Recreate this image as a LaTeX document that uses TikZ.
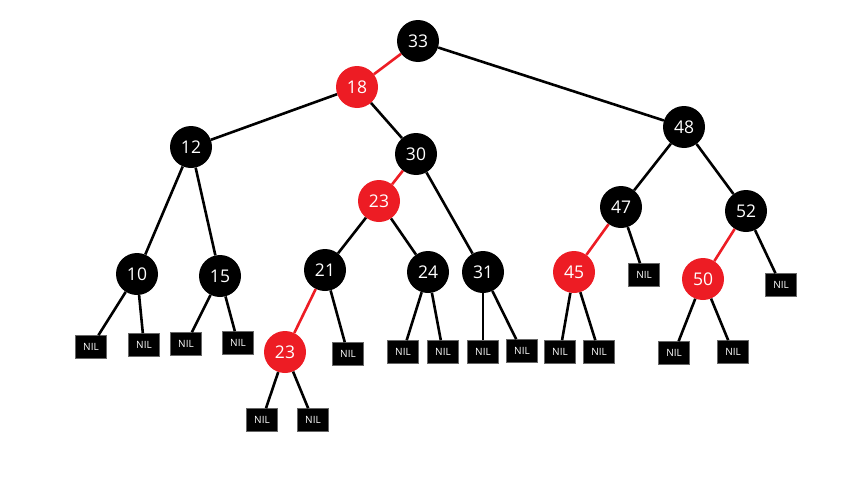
\documentclass[tikz,border=0pt]{standalone}
\usepackage{fontspec}
\setmainfont{Open Sans}
\usepackage{tikz}
\definecolor{rbred}{RGB}{237,28,36}
\tikzstyle{blk}=[circle, fill=black, inner sep=0pt, minimum size=42pt, text=white, font=\fontsize{17.5}{17.5}\selectfont]
\tikzstyle{rd}=[blk, fill=rbred]
\tikzstyle{nil}=[rectangle, fill=black, draw=black!60, line width=0.6pt, inner sep=0pt, minimum width=31pt, minimum height=23pt, text=white, font=\fontsize{10}{10}\selectfont]
\tikzstyle{lnk}=[draw, line width=2.6pt]
\tikzstyle{rlnk}=[lnk, draw=rbred]

\begin{document}
\begin{tikzpicture}[x=1pt,y=-1pt]
    \useasboundingbox (0,0) rectangle (848,479);
    % inner nodes
    \node [blk] (n33) at (418,41) {33};
    \node [rd] (n18) at (357,87) {18};
    \node [blk] (n12) at (191,147) {12};
    \node [blk] (n30) at (416,154) {30};
    \node [blk] (n48) at (684,127) {48};
    \node [rd] (n23a) at (379,201) {23};
    \node [blk] (n47) at (621,207) {47};
    \node [blk] (n52) at (746,211) {52};
    \node [blk] (n10) at (137,274) {10};
    \node [blk] (n15) at (220,276) {15};
    \node [blk] (n21) at (325,270) {21};
    \node [blk] (n24) at (428,272) {24};
    \node [blk] (n31) at (483,272) {31};
    \node [rd] (n45) at (574,272) {45};
    \node [rd] (n50) at (703,279) {50};
    \node [rd] (n23b) at (285,352) {23};
    % leaves
    \node [nil] (l10a) at (91,347) {NIL};
    \node [nil] (l10b) at (144,345) {NIL};
    \node [nil] (l15a) at (186,344) {NIL};
    \node [nil] (l15b) at (238,343) {NIL};
    \node [nil] (l21) at (348,354) {NIL};
    \node [nil] (l23a) at (262,420) {NIL};
    \node [nil] (l23b) at (313,420) {NIL};
    \node [nil] (l24a) at (403,352) {NIL};
    \node [nil] (l24b) at (443,352) {NIL};
    \node [nil] (l31a) at (483,352) {NIL};
    \node [nil] (l31b) at (522,351) {NIL};
    \node [nil] (l45a) at (560,352) {NIL};
    \node [nil] (l45b) at (599,352) {NIL};
    \node [nil] (l47) at (644,275) {NIL};
    \node [nil] (l50a) at (674,353) {NIL};
    \node [nil] (l50b) at (733,352) {NIL};
    \node [nil] (l52) at (781,285) {NIL};
    % links
    \path [rlnk] (n33) -- (n18);
    \path [lnk] (n33) -- (n48);
    \path [lnk] (n18) -- (n12);
    \path [lnk] (n18) -- (n30);
    \path [lnk] (n12) -- (n10);
    \path [lnk] (n12) -- (n15);
    \path [lnk] (n10) -- (l10a);
    \path [lnk] (n10) -- (l10b);
    \path [lnk] (n15) -- (l15a);
    \path [lnk] (n15) -- (l15b);
    \path [rlnk] (n30) -- (n23a);
    \path [lnk] (n30) -- (n31);
    \path [lnk] (n23a) -- (n21);
    \path [lnk] (n23a) -- (n24);
    \path [rlnk] (n21) -- (n23b);
    \path [lnk] (n21) -- (l21);
    \path [lnk] (n23b) -- (l23a);
    \path [lnk] (n23b) -- (l23b);
    \path [lnk] (n24) -- (l24a);
    \path [lnk] (n24) -- (l24b);
    \path [lnk] (n31) -- (l31a);
    \path [lnk] (n31) -- (l31b);
    \path [lnk] (n48) -- (n47);
    \path [lnk] (n48) -- (n52);
    \path [rlnk] (n47) -- (n45);
    \path [lnk] (n47) -- (l47);
    \path [lnk] (n45) -- (l45a);
    \path [lnk] (n45) -- (l45b);
    \path [rlnk] (n52) -- (n50);
    \path [lnk] (n52) -- (l52);
    \path [lnk] (n50) -- (l50a);
    \path [lnk] (n50) -- (l50b);
\end{tikzpicture}
\end{document}
